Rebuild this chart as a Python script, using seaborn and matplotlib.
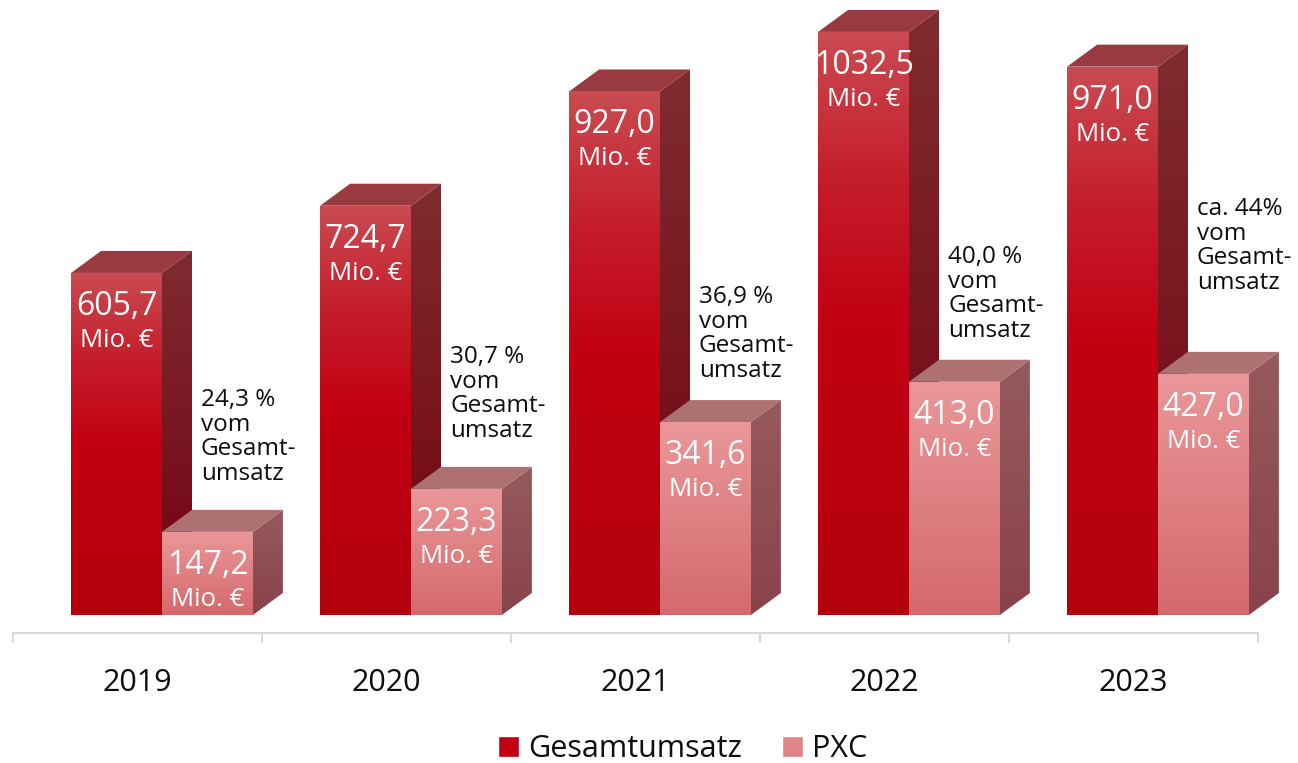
import numpy as np
import pandas as pd
import matplotlib
matplotlib.use("Agg")
import matplotlib.pyplot as plt
import seaborn as sns
from matplotlib.colors import LinearSegmentedColormap
from matplotlib.patches import Polygon, Patch

# Daten
years = ["2019", "2020", "2021", "2022", "2023"]
gesamt = [605.7, 724.7, 927.0, 1032.5, 971.0]
pxc = [147.2, 223.3, 341.6, 413.0, 427.0]
gesamt_labels = ["605,7", "724,7", "927,0", "1032,5", "971,0"]
pxc_labels = ["147,2", "223,3", "341,6", "413,0", "427,0"]
pct_labels = ["24,3 %", "30,7 %", "36,9 %", "40,0 %", "ca. 44%"]

df = pd.DataFrame({
    "Jahr": years * 2,
    "Umsatz": gesamt + pxc,
    "Serie": ["Gesamtumsatz"] * 5 + ["PXC"] * 5,
})

sns.set_theme(style="white")
plt.rcParams["font.family"] = ["Open Sans", "DejaVu Sans"]
plt.rcParams["text.color"] = "#0d0d0d"

W, H = 1298, 763
fig = plt.figure(figsize=(W / 100, H / 100), dpi=100)
# Achse bis zum rechten Rand, damit die 3D-Seite des letzten Balkens Platz hat
ax = fig.add_axes([13 / W, 130 / H, 1285 / W, 633 / H])

sns.barplot(data=df, x="Jahr", y="Umsatz", hue="Serie",
            palette=["#c10013", "#e08488"], saturation=1, width=0.73,
            errorbar=None, legend=False, ax=ax)

# achsen: 249 px pro Kategorie, 0.5647 px pro Mio.
shift = 24.5 / 249
xlim = (-0.5 - shift, 4.5 - shift + 40 / 249)
ylim = (-31.9, 1089)
dx = 30 / 249          # Tiefe (3D-Effekt)
dy = 22 / 0.5647


def cmap(cols):
    return LinearSegmentedColormap.from_list("c", cols)


grad = np.linspace(0, 1, 256).reshape(-1, 1)


def fill_grad(patch, cm, y0, y1, z):
    ext = patch.get_path().get_extents(patch.get_transform() - ax.transData)
    im = ax.imshow(grad, extent=(ext.x0, ext.x1, y0, y1), origin="lower",
                   cmap=cm, aspect="auto", zorder=z, interpolation="bilinear")
    im.set_clip_path(patch)


styles = [
    dict(front=cmap([(0, "#b3000c"), (0.5, "#c10013"), (0.75, "#c41e2b"), (1, "#ca4b52")]),
         side=cmap(["#74000f", "#7f2c30"]), top="#983a3f", z=2),
    dict(front=cmap(["#d4696d", "#ea9799"]),
         side=cmap(["#88434a", "#965a5c"]), top="#ad7171", z=3),
]

for cont, st in zip(ax.containers, styles):
    z = st["z"]
    for bar in cont:
        x0, w, h = bar.get_x(), bar.get_width(), bar.get_height()
        x1 = x0 + w
        bar.set_zorder(z)
        bar.set_edgecolor("none")
        fill_grad(bar, st["front"], 0, h, z + 0.1)
        side = Polygon([(x1, 0), (x1 + dx, dy), (x1 + dx, h + dy), (x1, h)],
                       closed=True, facecolor="none", edgecolor="none", zorder=z)
        ax.add_patch(side)
        fill_grad(side, st["side"], 0, h + dy, z)
        top = Polygon([(x0, h), (x0 + dx, h + dy), (x1 + dx, h + dy), (x1, h)],
                      closed=True, facecolor=st["top"], edgecolor="none", zorder=z,
                      clip_on=False)
        ax.add_patch(top)

# Werte in den Balken
for cont, labels in zip(ax.containers, [gesamt_labels, pxc_labels]):
    for bar, lab in zip(cont, labels):
        xc = bar.get_x() + bar.get_width() / 2
        h = bar.get_height()
        ax.annotate(lab, (xc, h), xytext=(0, -42 * 0.72), textcoords="offset points",
                    ha="center", va="baseline", color="white", fontsize=23, zorder=5)
        ax.annotate("Mio. €", (xc, h), xytext=(0, -74 * 0.72), textcoords="offset points",
                    ha="center", va="baseline", color="white", fontsize=18.5, zorder=5)

# Anteil vom Gesamtumsatz
pct_top = [402, 478, 584, 655, 740]
for bar, lab, yt in zip(ax.containers[0], pct_labels, pct_top):
    x1 = bar.get_x() + bar.get_width()
    ax.text(x1 + 39 / 249, yt, lab + "\nvom\nGesamt-\numsatz", ha="left", va="top",
            fontsize=17.5, color="#0d0d0d", linespacing=1.03, zorder=5)

ax.set_xlim(*xlim)
ax.set_ylim(*ylim)
ax.set_yticks([])
ax.set_xlabel("")
ax.set_ylabel("")
for s in ["left", "right", "top"]:
    ax.spines[s].set_visible(False)
ax.spines["bottom"].set_color("#d9d9d9")
ax.spines["bottom"].set_linewidth(1.5)
ax.spines["bottom"].set_bounds(-0.5 - shift, 4.5 - shift)

ax.set_xticks([k - shift for k in range(5)], labels=years)
ax.set_xticks([k - 0.5 - shift for k in range(6)], minor=True)
ax.tick_params(axis="x", which="major", length=0, pad=25, labelsize=22, labelcolor="#0d0d0d")
ax.tick_params(axis="x", which="minor", length=7, width=1.5, color="#d9d9d9", direction="out",
               bottom=True)

handles = [Patch(facecolor="#c10013", label="Gesamtumsatz"),
           Patch(facecolor="#e08488", label="PXC")]
fig.legend(handles=handles, loc="center", bbox_to_anchor=(682.5 / W, 1 - 749 / H),
           ncol=2, frameon=False, fontsize=22, handlelength=0.7, handleheight=0.7,
           handletextpad=0.3, columnspacing=1.3, borderpad=0, labelcolor="#0d0d0d")

fig.savefig("out.png", dpi=100)
